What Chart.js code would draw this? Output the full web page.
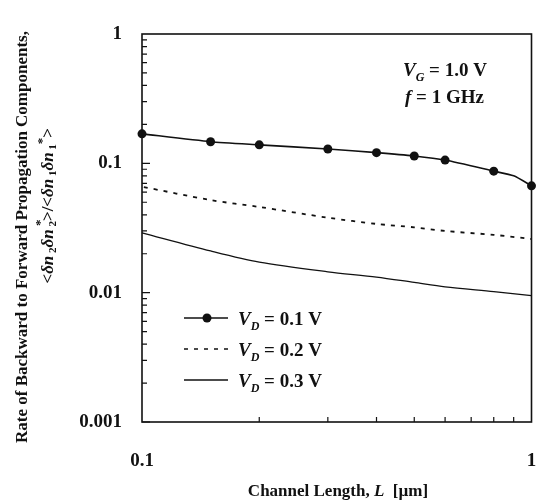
<!DOCTYPE html>
<html>
<head>
<meta charset="utf-8">
<script src="https://cdn.jsdelivr.net/npm/chart.js@4/dist/chart.umd.min.js"></script>
<style>
  html, body { margin: 0; padding: 0; background: #fff; }
  #wrap { width: 536px; height: 503px; }
</style>
</head>
<body>
<div id="wrap"><canvas id="c" width="536" height="503"></canvas></div>
<script>
// channel length L [um] and backward/forward ratio
var lengthVd1 = [0.1, 0.15, 0.2, 0.3, 0.4, 0.5, 0.6, 0.8, 0.9, 1.0];
var ratioVd1  = [0.169, 0.147, 0.139, 0.129, 0.121, 0.114, 0.106, 0.087, 0.080, 0.067];
var markVd1   = [1, 1, 1, 1, 1, 1, 1, 1, 0, 1];   // 0.9 is only a bend in the curve

var lengthVd = [0.1, 0.15, 0.2, 0.3, 0.4, 0.5, 0.6, 0.8, 1.0];
var ratioVd2 = [0.066, 0.052, 0.046, 0.038, 0.034, 0.032, 0.030, 0.028, 0.026];
var ratioVd3 = [0.029, 0.021, 0.0172, 0.0145, 0.0132, 0.012, 0.0111, 0.0102, 0.0095];

var xTicks = [0.1, 1];
var yTicks = [0.001, 0.01, 0.1, 1];

var INK = '#111';
var SERIF = '"Liberation Serif", "DejaVu Serif", serif';

function pts(xs, ys) {
    var out = [];
    for (var i = 0; i < xs.length; i++) out.push({x: xs[i], y: ys[i]});
    return out;
}

function f(size, italic) {
    return (italic ? 'italic ' : '') + 'bold ' + size + 'px ' + SERIF;
}

// draws a list of text runs; run = {t, font, dy, over}
function runsWidth(ctx, runs) {
    var w = 0, last = 0;
    runs.forEach(function (r) {
        ctx.font = r.font;
        var rw = ctx.measureText(r.t).width;
        if (r.over) { w = Math.max(w, w - last + rw); }
        else { w += rw; last = rw; }
    });
    return w;
}
function drawRuns(ctx, runs, x, y, align) {
    var w = runsWidth(ctx, runs);
    var cx = align === 'center' ? x - w / 2 : (align === 'right' ? x - w : x);
    var last = 0;
    ctx.textBaseline = 'alphabetic';
    ctx.textAlign = 'left';
    runs.forEach(function (r) {
        ctx.font = r.font;
        var rw = ctx.measureText(r.t).width;
        if (r.over) {
            ctx.fillText(r.t, cx - last, y + (r.dy || 0));
        } else {
            ctx.fillText(r.t, cx, y + (r.dy || 0));
            cx += rw; last = rw;
        }
    });
}

var decoration = {
    id: 'decoration',
    afterDraw: function (chart) {
        var ctx = chart.ctx, a = chart.chartArea;
        var xs = chart.scales.x, ys = chart.scales.y;
        ctx.save();
        ctx.strokeStyle = INK;
        ctx.fillStyle = INK;

        // frame
        ctx.lineWidth = 1.6;
        ctx.strokeRect(a.left, a.top, a.right - a.left, a.bottom - a.top);

        // inward ticks, decades plus 2..9
        ctx.lineWidth = 1.2;
        ctx.beginPath();
        [0.001, 0.01, 0.1].forEach(function (d) {
            for (var k = 1; k <= 9; k++) {
                var py = ys.getPixelForValue(d * k);
                var len = k === 1 ? 8 : 5;
                ctx.moveTo(a.left, py); ctx.lineTo(a.left + len, py);
            }
        });
        for (var k = 2; k <= 9; k++) {
            var px = xs.getPixelForValue(0.1 * k);
            ctx.moveTo(px, a.bottom); ctx.lineTo(px, a.bottom - 5);
        }
        ctx.stroke();

        // annotation
        drawRuns(ctx, [
            {t: 'V', font: f(19, true)},
            {t: 'G', font: f(12, true), dy: 5},
            {t: ' = 1.0 V', font: f(19)}
        ], 403, 76, 'left');
        drawRuns(ctx, [
            {t: 'f', font: f(19, true)},
            {t: ' = 1 GHz', font: f(19)}
        ], 405, 103, 'left');

        // legend
        var rows = [
            {y: 318, v: '0.1', dash: [], mark: true},
            {y: 349, v: '0.2', dash: [4, 6], mark: false},
            {y: 380, v: '0.3', dash: [], mark: false}
        ];
        rows.forEach(function (r) {
            ctx.lineWidth = 1.6;
            ctx.setLineDash(r.dash);
            ctx.beginPath();
            ctx.moveTo(184, r.y); ctx.lineTo(228, r.y);
            ctx.stroke();
            ctx.setLineDash([]);
            if (r.mark) {
                ctx.beginPath();
                ctx.arc(207, r.y, 4.5, 0, Math.PI * 2);
                ctx.fill();
            }
            drawRuns(ctx, [
                {t: 'V', font: f(19, true)},
                {t: 'D', font: f(12, true), dy: 5},
                {t: ' = ' + r.v + ' V', font: f(19)}
            ], 238, r.y + 7, 'left');
        });

        // x axis title
        drawRuns(ctx, [
            {t: 'Channel Length, ', font: f(17)},
            {t: 'L', font: f(17, true)},
            {t: '  [\u00b5m]', font: f(17)}
        ], 338, 496, 'center');

        // y axis title, two rotated lines
        ctx.save();
        ctx.translate(27, 237);
        ctx.rotate(-Math.PI / 2);
        drawRuns(ctx, [{t: 'Rate of Backward to Forward Propagation Components,', font: f(17)}], 0, 0, 'center');
        ctx.restore();

        ctx.save();
        ctx.translate(53, 205);
        ctx.rotate(-Math.PI / 2);
        drawRuns(ctx, [
            {t: '<', font: f(17)},
            {t: '\u03b4n', font: f(17, true)},
            {t: ' 2', font: f(11), dy: 3},
            {t: '\u03b4n', font: f(17, true)},
            {t: ' 2', font: f(11), dy: 3},
            {t: ' *', font: f(13), dy: -9, over: true},
            {t: '>/<', font: f(17)},
            {t: '\u03b4n', font: f(17, true)},
            {t: ' 1', font: f(11), dy: 3},
            {t: '\u03b4n', font: f(17, true)},
            {t: ' 1', font: f(11), dy: 3},
            {t: '*', font: f(13), dy: -7},
            {t: '>', font: f(17)}
        ], 0, 0, 'center');
        ctx.restore();

        ctx.restore();
    }
};

new Chart(document.getElementById('c'), {
    type: 'line',
    data: {
        datasets: [
            {
                label: 'V_D = 0.1 V',
                data: pts(lengthVd1, ratioVd1),
                borderColor: INK, backgroundColor: INK,
                borderWidth: 1.6,
                pointRadius: markVd1.map(function (m) { return m ? 4.5 : 0; }),
                pointBorderWidth: 0,
                tension: 0.2
            },
            {
                label: 'V_D = 0.2 V',
                data: pts(lengthVd, ratioVd2),
                borderColor: INK,
                borderWidth: 1.8,
                borderDash: [4, 6],
                borderDashOffset: 8,
                pointRadius: 0,
                tension: 0.3
            },
            {
                label: 'V_D = 0.3 V',
                data: pts(lengthVd, ratioVd3),
                borderColor: INK,
                borderWidth: 1.3,
                pointRadius: 0,
                tension: 0.3
            }
        ]
    },
    options: {
        responsive: false,
        animation: false,
        clip: false,
        layout: { padding: { left: 0, top: 34, right: 1, bottom: 0 } },
        plugins: { legend: { display: false }, tooltip: { enabled: false } },
        scales: {
            x: {
                type: 'logarithmic',
                min: 0.1, max: 1,
                afterBuildTicks: function (s) { s.ticks = xTicks.map(function (v) { return {value: v}; }); },
                afterFit: function (s) { s.height = 81; s.paddingLeft = 0; s.paddingRight = 0; },
                grid: { display: false },
                border: { display: false },
                ticks: {
                    color: INK, padding: 20, maxRotation: 0, autoSkip: false,
                    font: { family: SERIF, size: 19, weight: 'bold' },
                    callback: function (v) { return String(v); }
                }
            },
            y: {
                type: 'logarithmic',
                min: 0.001, max: 1,
                afterBuildTicks: function (s) { s.ticks = yTicks.map(function (v) { return {value: v}; }); },
                afterFit: function (s) { s.width = 142; s.paddingTop = 0; s.paddingBottom = 0; },
                grid: { display: false },
                border: { display: false },
                ticks: {
                    color: INK, padding: 12, autoSkip: false,
                    font: { family: SERIF, size: 19, weight: 'bold' },
                    callback: function (v) { return String(v); }
                }
            }
        }
    },
    plugins: [decoration]
});
</script>
</body>
</html>
